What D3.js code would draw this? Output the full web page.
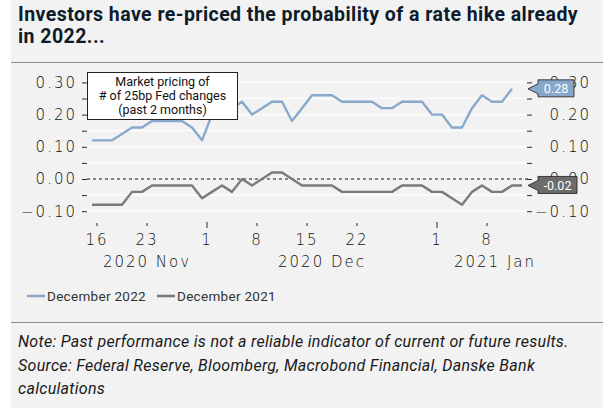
<!DOCTYPE html>
<html>
<head>
<meta charset="utf-8">
<script src="https://cdn.jsdelivr.net/npm/d3@7"></script>
<style>
  body { margin: 0; background: #fff; }
  svg text { font-family: "DejaVu Sans", sans-serif; }
  .title { font-family: Roboto, sans-serif; font-weight: 700; font-size: 19.5px; letter-spacing: 0.45px; fill: #0d1b2a; }
  .axis text { font-size: 15px; letter-spacing: 2px; fill: #111; font-weight: 300; }
  .axis line { stroke: #2a2a2a; }
  .axis path { display: none; }
  .legend text { font-family: Roboto, sans-serif; font-size: 13.5px; letter-spacing: 0.3px; fill: #333; }
  .note { font-family: Roboto, sans-serif; font-style: italic; font-size: 16px; letter-spacing: 0.3px; fill: #1a1a1a; }
  .box text { font-family: Roboto, sans-serif; font-size: 12.5px; fill: #111; }
</style>
</head>
<body>
<svg id="chart" width="612" height="408"></svg>
<script>
// business days shown on the chart
var dates = [
  "2020-11-16","2020-11-17","2020-11-18","2020-11-19","2020-11-20","2020-11-23","2020-11-24","2020-11-25","2020-11-26","2020-11-27","2020-11-30",
  "2020-12-01","2020-12-02","2020-12-03","2020-12-04","2020-12-07","2020-12-08","2020-12-09","2020-12-10","2020-12-11","2020-12-14","2020-12-15",
  "2020-12-16","2020-12-17","2020-12-18","2020-12-21","2020-12-22","2020-12-23","2020-12-24","2020-12-25","2020-12-28","2020-12-29","2020-12-30","2020-12-31",
  "2021-01-01","2021-01-04","2021-01-05","2021-01-06","2021-01-07","2021-01-08","2021-01-11","2021-01-12","2021-01-13","2021-01-14"
];
var dec2022 = [0.12,0.12,0.12,0.14,0.16,0.16,0.18,0.18,0.18,0.18,0.16,
  0.12,0.20,0.22,0.22,0.24,0.20,0.22,0.24,0.24,0.18,0.22,0.26,0.26,0.26,0.24,0.24,0.24,0.24,0.22,0.22,0.24,0.24,0.24,
  0.20,0.20,0.16,0.16,0.22,0.26,0.24,0.24,0.28,null];
var dec2021 = [-0.08,-0.08,-0.08,-0.08,-0.04,-0.04,-0.02,-0.02,-0.02,-0.02,-0.02,
  -0.06,-0.04,-0.02,-0.04,0.00,-0.02,0.00,0.02,0.02,0.00,-0.02,-0.02,-0.02,-0.02,-0.04,-0.04,-0.04,-0.04,-0.04,-0.04,-0.02,-0.02,-0.02,
  -0.04,-0.04,-0.06,-0.08,-0.04,-0.02,-0.04,-0.04,-0.02,-0.02];
var seriesNames = ["December 2022", "December 2021"];
var seriesColors = ["#88a9cc", "#7a7a7a"];
var tagColors = ["#87a8cb", "#6c6c6c"];
var yTicks = [-0.10,-0.05,0.00,0.05,0.10,0.15,0.20,0.25,0.30];
var xTicks = ["2020-11-16","2020-11-23","2020-12-01","2020-12-08","2020-12-15","2020-12-22","2021-01-01","2021-01-08"];
var months = [{label: "2020 Nov", at: 5}, {label: "2020 Dec", at: 22.5}, {label: "2021 Jan", at: 39.8}];
var titleLines = ["Investors have re-priced the probability of a rate hike already", "in 2022..."];
var boxLines = ["Market pricing of", "# of 25bp Fed changes", "(past 2 months)"];
var noteLines = ["Note: Past performance is not a reliable indicator of current or future results.",
  "Source: Federal Reserve, Bloomberg, Macrobond Financial, Danske Bank",
  "calculations"];

var svg = d3.select('#chart');

// panel background and separators
svg.append('rect').attr('x', 11).attr('y', 0).attr('width', 592).attr('height', 408).attr('fill', '#f2f2f2');
svg.append('line').attr('x1', 11).attr('x2', 603).attr('y1', 62.5).attr('y2', 62.5).attr('stroke', '#8c8c8c');
svg.append('line').attr('x1', 11).attr('x2', 603).attr('y1', 322.5).attr('y2', 322.5).attr('stroke', '#8c8c8c');

svg.append('g').selectAll('text').data(titleLines).enter().append('text')
  .attr('class', 'title').attr('x', 18).attr('y', function(d, i) { return 21 + i * 22; })
  .text(function(d) { return d; });

var x = d3.scaleBand().domain(dates).range([92, 532]).paddingInner(0).paddingOuter(0);
var y = d3.scaleLinear().domain([-0.1, 0.3]).range([211.2, 82.4]);
var plotLeft = 87, plotRight = 528;

// gridlines
svg.append('g').selectAll('line').data(yTicks.filter(function(d) { return Math.abs(d) > 1e-9; }))
  .enter().append('line')
  .attr('x1', plotLeft).attr('x2', plotRight)
  .attr('y1', function(d) { return y(d); }).attr('y2', function(d) { return y(d); })
  .attr('stroke', '#fff').attr('stroke-width', 1.2);
svg.append('line').attr('x1', plotLeft).attr('x2', plotRight).attr('y1', y(0)).attr('y2', y(0))
  .attr('stroke', '#111').attr('stroke-dasharray', '3,3');

var fmt = function(d) {
  var r = Math.round(d * 100);
  if (r % 10 !== 0) return '';
  return (d < 0 ? '\u2212' : '') + Math.abs(d).toFixed(2);
};

svg.append('g').attr('class', 'axis').attr('transform', 'translate(' + plotLeft + ',0)')
  .call(d3.axisLeft(y).tickValues(yTicks).tickSize(5).tickPadding(5).tickFormat(fmt));

var right = svg.append('g').attr('class', 'axis').attr('transform', 'translate(527,0)')
  .call(d3.axisRight(y).tickValues(yTicks).tickSize(5).tickPadding(5).tickFormat(fmt));
right.selectAll('text').attr('text-anchor', 'end').attr('x', 64);

var bottom = svg.append('g').attr('class', 'axis').attr('transform', 'translate(0,222)')
  .call(d3.axisBottom(x).tickValues(xTicks).tickSize(4).tickPadding(8)
    .tickFormat(function(d) { return +d.slice(8); }));
bottom.selectAll('.tick line')
  .attr('y1', function(d) { return d.slice(8) === '01' ? 0 : 1; })
  .attr('y2', function(d) { return d.slice(8) === '01' ? 6 : 4; });

var step = x.step();
bottom.selectAll('.month').data(months).enter().append('text')
  .attr('class', 'month')
  .attr('x', function(d) { return x.range()[0] + (d.at + 0.5) * step; })
  .attr('y', 45)
  .attr('text-anchor', 'middle')
  .text(function(d) { return d.label; });

// lines
var series = [dec2022, dec2021];
var line = d3.line()
  .defined(function(d) { return d.v !== null; })
  .x(function(d) { return x(d.date); })
  .y(function(d) { return y(d.v); });

series.forEach(function(vals, si) {
  var pts = dates.map(function(dt, i) { return {date: dt, v: vals[i]}; });
  svg.append('path').datum(pts)
    .attr('d', line)
    .attr('fill', 'none')
    .attr('stroke', seriesColors[si])
    .attr('stroke-width', 2.4)
    .attr('stroke-linejoin', 'round');
});

// annotation box
var box = svg.append('g').attr('class', 'box');
box.append('rect').attr('x', 87.5).attr('y', 72.5).attr('width', 150).attr('height', 47)
  .attr('fill', '#fff').attr('stroke', '#222');
box.selectAll('text').data(boxLines).enter().append('text')
  .attr('x', 162.5).attr('y', function(d, i) { return 86 + i * 14; })
  .attr('text-anchor', 'middle').text(function(d) { return d; });

// last value tags
series.forEach(function(vals, si) {
  var last = null;
  vals.forEach(function(v) { if (v !== null) last = v; });
  var ty = y(last);
  var label = last.toFixed(2);
  var w = label.length > 4 ? 39 : 36;
  var g = svg.append('g');
  var tip = 528, bx = 538;
  g.append('path')
    .attr('d', 'M' + tip + ',' + ty + 'L' + bx + ',' + (ty - 5) + 'L' + bx + ',' + (ty - 9) +
      'L' + (bx + w) + ',' + (ty - 9) + 'L' + (bx + w) + ',' + (ty + 8) + 'L' + bx + ',' + (ty + 8) +
      'L' + bx + ',' + (ty + 5) + 'Z')
    .attr('fill', tagColors[si]).attr('stroke', '#1a1a1a').attr('stroke-width', 0.8);
  g.append('text').attr('x', bx + w / 2).attr('y', ty + 4.5).attr('text-anchor', 'middle')
    .style('font-family', 'Roboto, sans-serif').style('font-size', '12.5px').attr('fill', '#fff')
    .text(label);
});

// legend
var legend = svg.append('g').attr('class', 'legend');
var lx = [27, 157];
seriesNames.forEach(function(name, i) {
  legend.append('line').attr('x1', lx[i]).attr('x2', lx[i] + 18).attr('y1', 296).attr('y2', 296)
    .attr('stroke', seriesColors[i]).attr('stroke-width', 2.6);
  legend.append('text').attr('x', lx[i] + 20).attr('y', 300.5).text(name);
});

// note
svg.append('g').selectAll('text').data(noteLines).enter().append('text')
  .attr('class', 'note').attr('x', 18).attr('y', function(d, i) { return 347 + i * 23.5; })
  .text(function(d) { return d; });
</script>
</body>
</html>
